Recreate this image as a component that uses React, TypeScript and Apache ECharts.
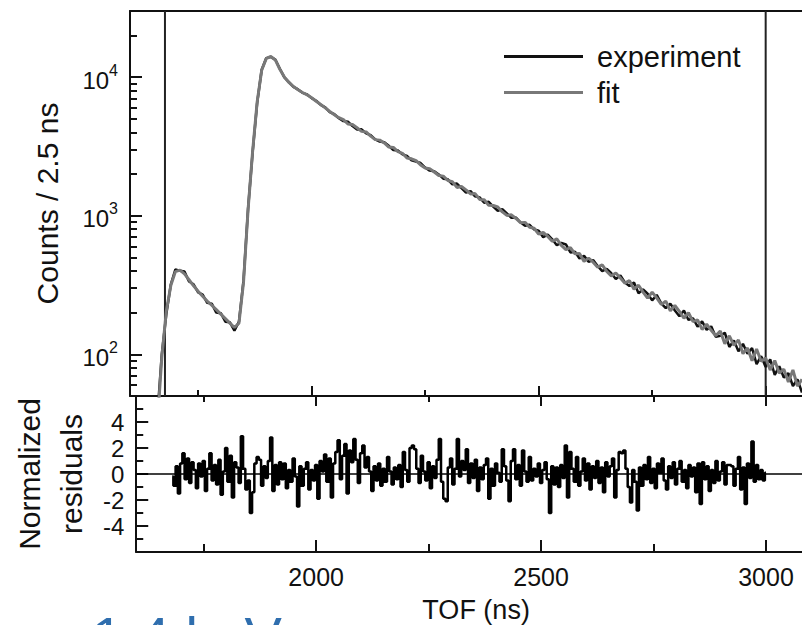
import React, { useEffect, useRef } from "react";
import * as echarts from "echarts";

// ---- Data ----
const countStartNs = 1660;
const countStepNs = 10;

const experiment = [
  35, 100, 195, 320, 410, 400, 395, 335, 320, 280,
  270, 235, 232, 200, 198, 172, 170, 148, 172, 340,
  1120, 2850, 6500, 11300, 13700, 14000, 13400, 11500, 9950, 9200,
  8500, 8150, 7700, 7500, 7050, 6750, 6300, 6050, 5600, 5400,
  5050, 4815, 4765, 4435, 4195, 4200, 3925, 3815, 3550, 3425,
  3385, 3195, 2975, 2955, 2770, 2695, 2510, 2455, 2400, 2225,
  2115, 2095, 1985, 1850, 1830, 1685, 1705, 1580, 1470, 1505,
  1380, 1355, 1240, 1260, 1165, 1085, 1115, 1040, 965, 970,
  895, 845, 860, 795, 780, 700, 730, 676, 613, 636,
  620, 543, 550, 491, 513, 465, 478, 434, 398, 414,
  385, 349, 371, 330, 311, 330, 276, 294, 274, 245,
  268, 233, 215, 232, 207, 188, 207, 177, 182, 158,
  173, 150, 159, 134, 136, 143, 113, 126, 105, 119,
  101, 111, 85, 97, 81, 92, 71, 82, 68, 73,
  59, 66, 53,
];

const fit = [
  30, 95, 205, 315, 395, 405, 380, 345, 312, 285,
  262, 242, 226, 210, 195, 181, 168, 156, 168, 330,
  1100, 2900, 6600, 11200, 13600, 14100, 13300, 11400, 10000, 9150,
  8550, 8100, 7750, 7450, 7100, 6700, 6350, 6000, 5650, 5350,
  5100, 4940, 4590, 4550, 4310, 4060, 4020, 3750, 3540, 3510,
  3350, 3130, 3110, 2900, 2820, 2610, 2575, 2495, 2325, 2210,
  2185, 2065, 1950, 1930, 1795, 1760, 1600, 1625, 1535, 1435,
  1445, 1310, 1305, 1190, 1185, 1155, 1065, 1005, 1015, 955,
  890, 895, 825, 812, 737, 759, 709, 653, 680, 611,
  570, 589, 531, 533, 468, 494, 462, 425, 442, 396,
  368, 386, 355, 326, 340, 295, 315, 281, 254, 281,
  255, 229, 242, 206, 225, 204, 182, 200, 172, 177,
  151, 165, 149, 136, 147, 119, 136, 116, 127, 101,
  111, 90, 109, 89, 94, 77, 90, 73, 78, 63,
  77, 59, 66,
];

const residualStartNs = 1680;
const residualStepNs = 5;
const residuals = [
  -0.2, -0.9, 0.6, -1.5, 0.8, 1.6, -0.4, 1.2, -0.7, 0.9,
  0.3, -1.1, 0.8, -0.2, 1.0, -1.3, 0.4, 1.6, -0.5, 0.7,
  -0.8, 1.1, -1.6, 0.2, 2.0, -0.6, 1.4, -1.8, 0.9, 0.5,
  -0.7, 2.9, 0.4, -1.2, -0.5, -3.0, -1.4, 0.8, 1.3, 1.1,
  -0.9, 0.6, -0.3, 1.0, 2.8, -1.3, 0.7, -0.8, 0.9, -0.4,
  0.8, -1.1, 0.3, -0.6, 1.2, -0.2, -2.5, 0.6, -0.9, 0.4,
  0.9, -1.2, 0.3, -0.5, 0.7, -1.9, 1.0, 0.2, 1.5, -0.6,
  1.2, -1.8, 0.8, 1.7, 2.6, -0.4, 1.4, 2.3, -1.5, 1.8,
  0.9, 2.7, 1.1, -0.7, 1.6, 2.2, 0.5, 1.3, 0.2, -1.3,
  0.6, -0.5, 0.8, -0.9, 0.4, -0.6, 1.3, 0.2, -0.8, 0.5,
  -0.4, 0.7, -1.0, 1.7, 0.3, -0.6, 2.0, 2.2, 1.9, 0.4,
  -0.7, 1.4, 0.2, -0.5, 0.9, -1.1, 0.6, -0.3, 1.1, 2.7,
  -0.6, -1.9, -2.1, 0.5, 1.2, -0.8, 0.4, 2.7, -0.2, 1.0,
  0.3, 1.9, -0.7, 0.8, -0.3, 1.1, -1.3, 0.5, -0.4, 0.7,
  1.2, -1.9, 0.4, -0.9, 0.8, 0.1, -0.6, 1.9, 0.6, -0.5,
  -2.1, 1.0, 1.9, -0.4, 0.7, -0.9, 1.8, 0.2, -0.6, 1.3,
  -0.5, 0.4, -0.2, 0.8, -0.7, 0.3, 0.9, -0.4, -3.0, 0.6,
  -0.8, 0.5, -1.0, 0.7, -0.3, 2.2, -1.8, 1.7, 0.4, -0.6,
  1.3, -0.9, 0.2, 1.2, -0.5, 0.8, -1.2, 0.6, -0.3, 1.0,
  -0.7, 0.5, -1.4, 0.9, -0.2, 0.6, 1.2, -1.8, 0.3, 1.7,
  1.6, 1.8, 0.4, -1.0, -2.2, 0.3, -0.6, -2.8, 0.5, -0.9,
  0.7, -0.4, 1.3, -0.7, 0.4, -1.1, 0.8, 0.1, 1.2, -0.5,
  -1.2, 0.6, -0.3, 0.9, -0.8, 0.4, 1.0, -0.6, 0.3, -1.1,
  0.7, -0.2, 0.5, -1.4, 0.8, -2.3, 0.9, -0.4, 0.6, -1.3,
  0.3, -0.7, 1.0, -0.5, 0.2, 0.9, -0.8, 0.7, 0.7, 0.6,
  -0.9, 0.4, 1.3, -1.2, 0.5, -2.3, 0.8, -0.3, 2.5, -0.6,
  0.7, -0.4, 0.3, -0.5, 0.1,
];

const markerLinesNs = [1677, 3000];
const tofMin = 1600;
const tofMax = 3080;
const countsMin = 50;
const countsMax = 30000;
const xMajorTicks = [2000, 2500, 3000];
const xMinorTicks = [1750, 2250, 2750];
const yMajorTicks = [100, 1000, 10000];
const yMinorTicks = [
  60, 70, 80, 90, 200, 300, 400, 500, 600, 700, 800, 900,
  2000, 3000, 4000, 5000, 6000, 7000, 8000, 9000, 20000,
];
const residualMinorTicks = [-5, -3, -1, 1, 3, 5];

const FONT = "'Liberation Sans', Arial, Helvetica, sans-serif";
const INK = "#111";

export default function App() {
  const ref = useRef<HTMLDivElement>(null);

  useEffect(() => {
    if (!ref.current) return;
    const chart = echarts.init(ref.current, undefined, { renderer: "svg" });

    const expData = experiment.map((v, i) => [countStartNs + i * countStepNs, v]);
    const fitData = fit.map((v, i) => [countStartNs + i * countStepNs, v]);
    const resData = residuals.map((v, i) => [residualStartNs + i * residualStepNs, v]);

    const line = { show: true, onZero: false, lineStyle: { color: INK, width: 2 } };
    const noLine = { show: false, onZero: false };
    const tick = (len: number, values: number[]) => ({
      show: true,
      inside: true,
      length: len,
      customValues: values,
      lineStyle: { color: INK, width: 2 },
    });
    const noLabel = { show: false };
    const base = { type: "value", min: tofMin, max: tofMax, splitLine: { show: false } };

    const markerSeries = markerLinesNs.map((x, i) => ({
      name: "marker" + i,
      type: "line",
      xAxisIndex: 0,
      yAxisIndex: 0,
      data: [
        [x, countsMin],
        [x, countsMax],
      ],
      symbol: "none",
      silent: true,
      clip: true,
      lineStyle: { color: "#222", width: 2 },
      itemStyle: { color: "#222" },
      z: 1,
    }));

    const option: any = {
      animation: false,
      backgroundColor: "#fff",
      textStyle: { fontFamily: FONT, color: INK },
      grid: [
        { left: 130, top: 11, width: 673, height: 385 },
        { left: 130, top: 396, width: 673, height: 156 },
      ],
      legend: {
        data: ["experiment", "fit"],
        orient: "vertical",
        left: 499,
        top: 37,
        icon: "rect",
        itemWidth: 79,
        itemHeight: 3,
        itemGap: 7,
        textStyle: { fontSize: 29, color: INK, fontFamily: FONT, padding: [0, 0, 0, 9] },
      },
      xAxis: [
        { ...base, gridIndex: 0, position: "bottom", axisLine: line, axisTick: tick(10, xMajorTicks), axisLabel: noLabel },
        { ...base, gridIndex: 0, position: "bottom", axisLine: noLine, axisTick: tick(6, xMinorTicks), axisLabel: noLabel },
        { ...base, gridIndex: 0, position: "top", axisLine: line, axisTick: { show: false }, axisLabel: noLabel },
        { ...base, gridIndex: 1, position: "top", axisLine: line, axisTick: tick(10, xMajorTicks), axisLabel: noLabel },
        { ...base, gridIndex: 1, position: "top", axisLine: noLine, axisTick: tick(6, xMinorTicks), axisLabel: noLabel },
        {
          ...base,
          gridIndex: 1,
          position: "bottom",
          axisLine: line,
          axisTick: tick(12, xMajorTicks),
          axisLabel: {
            show: true,
            customValues: xMajorTicks,
            formatter: (v: number) => String(v),
            fontSize: 25,
            color: INK,
            margin: 12,
            fontFamily: FONT,
          },
          name: "TOF (ns)",
          nameLocation: "middle",
          nameGap: 44,
          nameTextStyle: { fontSize: 27, color: INK, fontFamily: FONT, padding: [0, 0, 0, 14] },
        },
        { ...base, gridIndex: 1, position: "bottom", axisLine: noLine, axisTick: tick(8, xMinorTicks), axisLabel: noLabel },
      ],
      yAxis: [
        {
          type: "log",
          logBase: 10,
          gridIndex: 0,
          position: "left",
          min: countsMin,
          max: countsMax,
          axisLine: line,
          axisTick: tick(12, yMajorTicks),
          splitLine: { show: false },
          axisLabel: {
            show: true,
            customValues: yMajorTicks,
            margin: 12,
            formatter: (v: number) => `{b|10}{s|${Math.round(Math.log10(v))}}`,
            rich: {
              b: { fontSize: 24, color: INK, fontFamily: FONT, lineHeight: 30, padding: [6, 0, 0, 0] },
              s: { fontSize: 16, color: INK, fontFamily: FONT, verticalAlign: "top", lineHeight: 16 },
            },
          },
          name: "Counts / 2.5 ns",
          nameLocation: "middle",
          nameGap: 68,
          nameTextStyle: { fontSize: 30, color: INK, fontFamily: FONT },
        },
        {
          type: "log",
          logBase: 10,
          gridIndex: 0,
          position: "left",
          min: countsMin,
          max: countsMax,
          axisLine: noLine,
          axisTick: tick(7, yMinorTicks),
          splitLine: { show: false },
          axisLabel: noLabel,
        },
        {
          type: "value",
          gridIndex: 1,
          position: "left",
          min: -6,
          max: 6,
          interval: 2,
          axisLine: line,
          axisTick: { show: true, inside: true, length: 12, lineStyle: { color: INK, width: 2 } },
          splitLine: { show: false },
          axisLabel: {
            show: true,
            showMinLabel: false,
            showMaxLabel: false,
            fontSize: 24,
            color: INK,
            margin: 12,
            fontFamily: FONT,
          },
          name: "Normalized\nresiduals",
          nameLocation: "middle",
          nameGap: 37,
          nameTextStyle: { fontSize: 30, lineHeight: 42, color: INK, fontFamily: FONT },
        },
        {
          type: "value",
          gridIndex: 1,
          position: "left",
          min: -6,
          max: 6,
          interval: 2,
          axisLine: noLine,
          axisTick: tick(7, residualMinorTicks),
          splitLine: { show: false },
          axisLabel: noLabel,
        },
      ],
      series: [
        ...markerSeries,
        {
          name: "experiment",
          type: "line",
          xAxisIndex: 0,
          yAxisIndex: 0,
          data: expData,
          symbol: "none",
          lineStyle: { color: INK, width: 2.5 },
          itemStyle: { color: INK },
          clip: true,
          z: 2,
        },
        {
          name: "fit",
          type: "line",
          xAxisIndex: 0,
          yAxisIndex: 0,
          data: fitData,
          symbol: "none",
          lineStyle: { color: "#787878", width: 3 },
          itemStyle: { color: "#787878" },
          clip: true,
          z: 3,
        },
        {
          name: "zero",
          type: "line",
          xAxisIndex: 5,
          yAxisIndex: 2,
          data: [
            [tofMin, 0],
            [tofMax, 0],
          ],
          symbol: "none",
          silent: true,
          clip: true,
          lineStyle: { color: "#000", width: 1.6 },
          itemStyle: { color: "#000" },
          z: 1,
        },
        {
          name: "residuals",
          type: "line",
          xAxisIndex: 5,
          yAxisIndex: 2,
          data: resData,
          step: "middle",
          symbol: "none",
          clip: true,
          lineStyle: { color: "#000", width: 2.5 },
          itemStyle: { color: "#000" },
          z: 2,
        },
      ],
      graphic: [
        {
          type: "text",
          x: 92,
          y: 636,
          silent: true,
          style: {
            text: "1.4 keV",
            fontSize: 56,
            fontFamily: FONT,
            fill: "#2f6eae",
            verticalAlign: "middle",
          },
        },
      ],
    };

    chart.setOption(option);
    return () => chart.dispose();
  }, []);

  return (
    <div
      ref={ref}
      style={{ position: "fixed", left: 0, top: 0, width: 802, height: 625, overflow: "hidden", background: "#fff" }}
    />
  );
}
